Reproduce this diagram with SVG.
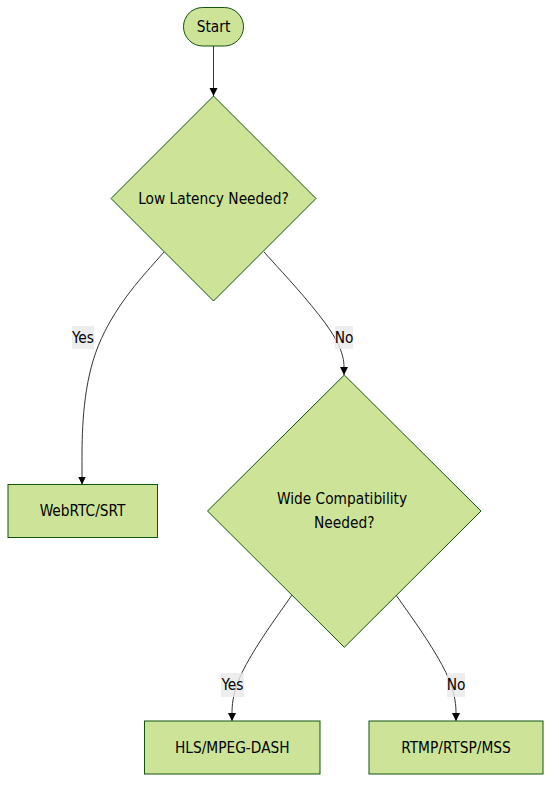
<svg xmlns="http://www.w3.org/2000/svg" width="559" height="794" viewBox="0 0 559 794">
<defs>
<marker id="arrow" viewBox="0 0 10 10" refX="10" refY="5" markerWidth="8" markerHeight="9" markerUnits="userSpaceOnUse" orient="auto">
<path d="M0,0 L10,5 L0,10 z" fill="#000"/>
</marker>
</defs>
<style>
.node{fill:#cde498;stroke:#13540c;stroke-width:1}
.lbl{font-family:"DejaVu Sans Condensed","DejaVu Sans",sans-serif;font-stretch:condensed;font-size:15.3px;fill:#000;text-anchor:middle;dominant-baseline:central}
.edge{fill:none;stroke:#333;stroke-width:1;marker-end:url(#arrow)}
.ebg{fill:#e8e8e8;opacity:0.8}
</style>
<rect width="559" height="794" fill="#fff"/>
<g id="connectors">
<path class="edge" d="M213.5,46 L213.5,96"/>
<path class="edge" d="M164,252 L150.3,267.5 C136.7,283 109.3,314 95.7,352.7 C82,391.3 82,437.7 82,460.8 L82,484.5"/>
<path class="edge" d="M264,252 L277.3,266.7 C290.7,281.3 317.3,310.7 330.7,331 C344,351.3 344,362.7 344,368.3 L344,375"/>
<path class="edge" d="M292,595 L282,609.2 C272,623.3 252,651.7 242,672.7 C232,693.7 232,707.3 232,714.2 L232,721"/>
<path class="edge" d="M396,595 L406,609.2 C416,623.3 436,651.7 446,672.7 C456,693.7 456,707.3 456,714.2 L456,721"/>
<g id="edge-labels">
<rect class="ebg" x="72" y="326" width="22" height="23"/>
<text class="lbl" x="83" y="337.5">Yes</text>
<rect class="ebg" x="335" y="326" width="18" height="23"/>
<text class="lbl" x="344" y="337.5">No</text>
<rect class="ebg" x="221" y="673" width="23" height="24"/>
<text class="lbl" x="232.5" y="685">Yes</text>
<rect class="ebg" x="447" y="673" width="18" height="24"/>
<text class="lbl" x="456" y="685">No</text>
</g>
</g>
<g id="start">
<rect class="node" x="183.5" y="7.5" width="60" height="38.5" rx="19.25"/>
<text class="lbl" x="213.5" y="27">Start</text>
</g>
<g id="lowLatency">
<polygon class="node" points="213.5,96 316,198.5 213.5,301 111,198.5"/>
<text class="lbl" x="213.5" y="198.5">Low Latency Needed?</text>
</g>
<g id="webrtc">
<rect class="node" x="8" y="484.5" width="149.5" height="53"/>
<text class="lbl" x="82.5" y="511">WebRTC/SRT</text>
</g>
<g id="wideCompat">
<polygon class="node" points="344.3,375 481,511 344.3,647.3 207.5,511"/>
<text class="lbl" x="342" y="499">Wide Compatibility</text>
<text class="lbl" x="344.3" y="523">Needed?</text>
</g>
<g id="hls">
<rect class="node" x="144.5" y="721" width="175.5" height="53"/>
<text class="lbl" x="232.3" y="747.5">HLS/MPEG-DASH</text>
</g>
<g id="rtmp">
<rect class="node" x="369" y="721" width="174" height="53"/>
<text class="lbl" x="456" y="747.5">RTMP/RTSP/MSS</text>
</g>
</svg>
